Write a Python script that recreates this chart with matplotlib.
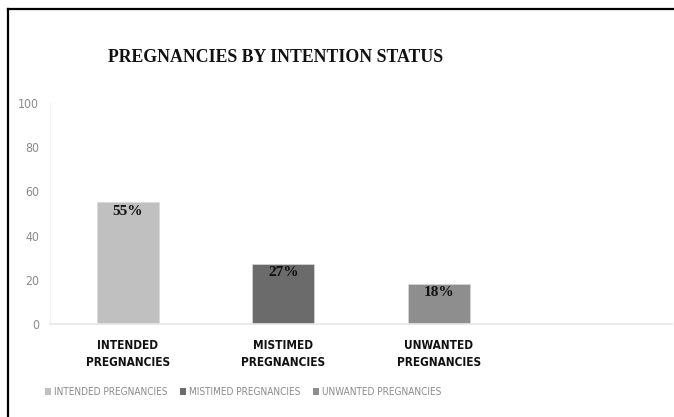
import matplotlib
matplotlib.use('Agg')
import matplotlib.pyplot as plt
from matplotlib.lines import Line2D
from matplotlib.patches import Patch

categories = ['INTENDED PREGNANCIES', 'MISTIMED PREGNANCIES', 'UNWANTED PREGNANCIES']
tick_labels = ['INTENDED\nPREGNANCIES', 'MISTIMED\nPREGNANCIES', 'UNWANTED\nPREGNANCIES']
values = [55, 27, 18]
value_labels = ['55%', '27%', '18%']
colors = ['#c0c0c0', '#6b6b6b', '#8e8e8e']

fig = plt.figure(figsize=(6.74, 4.17), dpi=100)
ax = fig.add_axes([50 / 674, 1 - 324 / 417, 622 / 674, 221 / 417])

x = list(range(len(values)))
bars = ax.bar(x, values, width=0.4, color=colors, edgecolor='#d8d8d8', linewidth=0.5)
ax.set_xlim(-0.5, 3.5)
ax.set_ylim(0, 100)
ax.set_yticks(range(0, 101, 20))

for b, lab in zip(bars, value_labels):
    ax.annotate(lab, (b.get_x() + b.get_width() / 2, b.get_height()),
                xytext=(0, -1.5), textcoords='offset points', ha='center', va='top',
                family='Liberation Serif', fontweight='bold', fontsize=11, color='#111111')

ax.set_xticks(x)
ax.set_xticklabels(tick_labels, family='DejaVu Sans', fontstretch='condensed',
                   fontweight='bold', fontsize=8.5, linespacing=1.35, color='#111111')
ax.tick_params(axis='x', length=0, pad=11)
ax.tick_params(axis='y', length=0, pad=8, labelcolor='#8a8a8a', labelsize=8.8)
for t in ax.get_yticklabels():
    t.set_family('DejaVu Sans')
    t.set_fontstretch('condensed')

for side in ['top', 'right']:
    ax.spines[side].set_visible(False)
ax.spines['left'].set_color('#f2f2f2')
ax.spines['bottom'].set_color('#e6e6e6')
ax.spines['bottom'].set_linewidth(1.2)

fig.text(276 / 674, 1 - 58 / 417, 'PREGNANCIES BY INTENTION STATUS', ha='center', va='center',
         family='Liberation Serif', fontweight='bold', fontsize=12.8, color='#111111')

handles = [Patch(facecolor=c, edgecolor='none') for c in colors]
leg = fig.legend(handles, categories, loc='center', bbox_to_anchor=(243 / 674, 1 - 392 / 417),
                 ncol=3, frameon=False, handlelength=0.55, handleheight=0.6,
                 handletextpad=0.3, columnspacing=1.3,
                 prop={'family': 'DejaVu Sans', 'stretch': 'condensed', 'size': 7.2})
for t in leg.get_texts():
    t.set_color('#8a8a8a')

# outer frame: top and left edges only
fig.add_artist(Line2D([7.5 / 674, 1], [1 - 8.5 / 417] * 2, color='black', linewidth=1.6))
fig.add_artist(Line2D([7.5 / 674] * 2, [0, 1 - 8.5 / 417], color='black', linewidth=1.6))

fig.savefig('out.png', dpi=100)
